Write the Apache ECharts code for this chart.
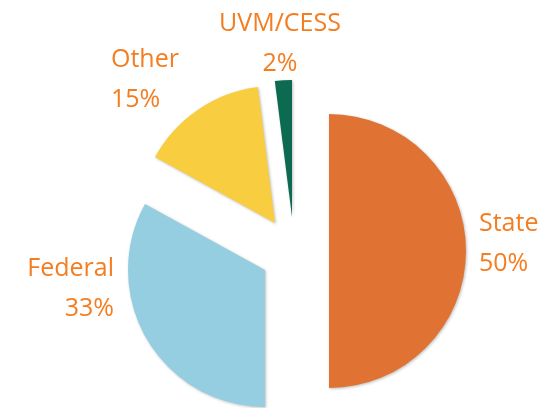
<!DOCTYPE html>
<html>
<head>
<meta charset="utf-8">
<script src="https://cdn.jsdelivr.net/npm/echarts@6/dist/echarts.min.js"></script>
<style>
  html, body { margin: 0; padding: 0; background: #fff; }
  #chart { width: 543px; height: 408px; }
</style>
</head>
<body>
<div id="chart"></div>
<script>
// funding sources (%)
const names = ['State', 'Federal', 'Other', 'UVM/CESS']
const values = [50, 33, 15, 2]
const colors = ['#e07334', '#95cee1', '#f8cd40', '#0b6a4f']

// exploded layout: each slice gets its own pie centre
const centers = [[329, 251], [265, 270], [275, 223], [292, 217]]
// label anchors [x, y, align]
const labelPos = [
  [479, 244, 'left'],
  [114, 289, 'right'],
  [111, 80, 'left'],
  [280, 44, 'center']
]

const chart = echarts.init(document.getElementById('chart'))

const series = names.map((_, k) => ({
  type: 'pie',
  center: centers[k],
  radius: 137,
  startAngle: 90,
  clockwise: true,
  silent: true,
  avoidLabelOverlap: false,
  emphasis: { disabled: true },
  label: {
    show: true,
    formatter: '{b}\n{d}%',
    color: '#f47d20',
    fontFamily: 'Open Sans',
    fontSize: 25,
    lineHeight: 40
  },
  labelLine: { show: false },
  labelLayout: () => ({
    x: labelPos[k][0],
    y: labelPos[k][1],
    align: labelPos[k][2],
    verticalAlign: 'middle'
  }),
  data: names.map((n, i) => i === k
    ? {
        name: n,
        value: values[i],
        itemStyle: {
          color: colors[i],
          shadowColor: 'rgba(0,0,0,0.25)',
          shadowBlur: 3,
          shadowOffsetX: 1,
          shadowOffsetY: 1
        }
      }
    : {
        name: n,
        value: values[i],
        itemStyle: { color: 'rgba(0,0,0,0)' },
        label: { show: false }
      })
}))

chart.setOption({
  animation: false,
  backgroundColor: '#fff',
  series
})
</script>
</body>
</html>
